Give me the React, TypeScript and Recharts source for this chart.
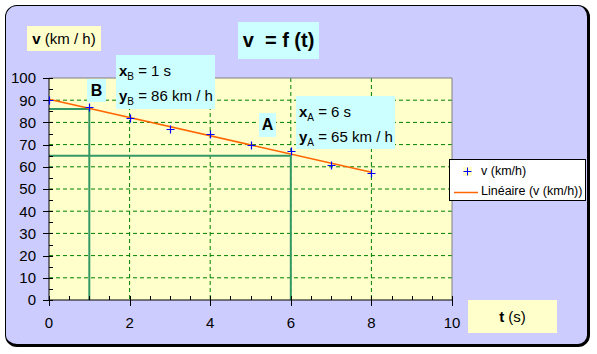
import { ComposedChart, Scatter, Line, XAxis, YAxis, CartesianGrid, ReferenceLine } from "recharts";

const times = [0, 1, 2, 3, 4, 5, 6, 7, 8];
const speeds = [90, 87, 82, 77, 75, 70, 67, 61, 57];
const xTicks = [0, 2, 4, 6, 8, 10];
const yTicks = [0, 10, 20, 30, 40, 50, 60, 70, 80, 90, 100];
const xMinorTicks = [0, 0.5, 1, 1.5, 2, 2.5, 3, 3.5, 4, 4.5, 5, 5.5, 6, 6.5, 7, 7.5, 8, 8.5, 9, 9.5, 10];
const yMinorTicks = [0, 5, 10, 15, 20, 25, 30, 35, 40, 45, 50, 55, 60, 65, 70, 75, 80, 85, 90, 95, 100];
const xGrid = [2, 4, 6, 8];
const yGrid = [10, 20, 30, 40, 50, 60, 70, 80, 90];
const pointB = { t: 1, v: 86 };
const pointA = { t: 6, v: 65 };

const FONT = "'Liberation Sans', Arial, sans-serif";

const points = times.map((t, i) => ({ t, v: speeds[i] }));
const xMinorMarks = xMinorTicks.map((t) => ({ t, v: 0 }));
const yMinorMarks = yMinorTicks.map((v) => ({ t: 0, v }));

// Excel-style linear trendline (least squares)
function linearTrend(xs: number[], ys: number[]) {
  const n = xs.length;
  const mx = xs.reduce((a, b) => a + b, 0) / n;
  const my = ys.reduce((a, b) => a + b, 0) / n;
  let sxy = 0;
  let sxx = 0;
  xs.forEach((x, i) => {
    sxy += (x - mx) * (ys[i] - my);
    sxx += (x - mx) * (x - mx);
  });
  const slope = sxy / sxx;
  const b = my - slope * mx;
  const first = xs[0];
  const last = xs[n - 1];
  return [
    { t: first, v: b + slope * first },
    { t: last, v: b + slope * last },
  ];
}
const trend = linearTrend(times, speeds);

function Plus(props: any) {
  const cx = Math.round(props.cx) + 0.5;
  const cy = Math.round(props.cy) + 0.5;
  return <path d={`M${cx - 4},${cy}H${cx + 4}M${cx},${cy - 4}V${cy + 4}`} stroke="#0000FF" strokeWidth={1.2} fill="none" />;
}

// minor ticks inside the plot, drawn under the markers
function XMinorTick(props: any) {
  const x = Math.round(props.cx) + 0.5;
  const y = props.cy;
  return <path d={`M${x},${y}V${y - 4}`} stroke="#000000" strokeWidth={1} />;
}
function YMinorTick(props: any) {
  const x = props.cx;
  const y = Math.round(props.cy) + 0.5;
  return <path d={`M${x},${y}H${x + 4}`} stroke="#000000" strokeWidth={1} />;
}

// major ticks outside with label
function XTick(props: any) {
  const { x, y, payload } = props;
  const rx = Math.round(x) + 0.5;
  return (
    <g>
      <path d={`M${rx},${y}V${y + 6}`} stroke="#000000" strokeWidth={1} />
      <text x={x} y={y + 17} dy="0.71em" textAnchor="middle" fill="#000" fontSize={15} fontFamily={FONT}>
        {payload.value}
      </text>
    </g>
  );
}

function YTick(props: any) {
  const { x, y, payload } = props;
  const ry = Math.round(y) + 0.5;
  return (
    <g>
      <path d={`M${x - 6},${ry}H${x}`} stroke="#000000" strokeWidth={1} />
      <text x={x - 13} y={y} dy="0.355em" textAnchor="end" fill="#000" fontSize={15} fontFamily={FONT}>
        {payload.value}
      </text>
    </g>
  );
}

const box = (left: number, top: number, width: number, height: number, bg: string): React.CSSProperties => ({
  position: "absolute",
  left,
  top,
  width,
  height,
  background: bg,
  fontFamily: FONT,
  color: "#000",
  boxSizing: "border-box",
});

const sub: React.CSSProperties = { fontSize: 10, position: "relative", top: 4 };

export default function App() {
  return (
    <div style={{ position: "absolute", left: 0, top: 0, width: 597, height: 354 }}>
      <div
        style={{
          position: "absolute",
          left: 5,
          top: 5,
          width: 585,
          height: 342,
          boxSizing: "border-box",
          background: "#CCCCFF",
          border: "1px solid #000",
          borderRightWidth: 3,
          borderBottomWidth: 3,
          borderRadius: 12,
        }}
      />
      <ComposedChart
        width={597}
        height={354}
        margin={{ top: 78, right: 145, bottom: 24, left: 9 }}
        style={{ position: "absolute", left: 0, top: 0 }}
      >
        <CartesianGrid fill="#FFFFCC" stroke="#008000" strokeDasharray="4 3" verticalValues={xGrid} horizontalValues={yGrid} />
        <XAxis
          type="number"
          dataKey="t"
          domain={[0, 10]}
          ticks={xTicks}
          interval={0}
          height={30}
          tickLine={false}
          tickSize={0}
          tickMargin={0}
          stroke="#000"
          tick={<XTick />}
        />
        <YAxis
          type="number"
          dataKey="v"
          domain={[0, 100]}
          ticks={yTicks}
          interval={0}
          width={40}
          tickLine={false}
          tickSize={0}
          tickMargin={0}
          stroke="#000"
          tick={<YTick />}
        />
        <ReferenceLine y={100} stroke="#808080" />
        <ReferenceLine x={10} stroke="#808080" />
        <ReferenceLine segment={[{ x: 0, y: pointB.v }, { x: pointB.t, y: pointB.v }]} stroke="#339966" strokeWidth={2} />
        <ReferenceLine segment={[{ x: pointB.t, y: pointB.v }, { x: pointB.t, y: 0 }]} stroke="#339966" strokeWidth={2} />
        <ReferenceLine segment={[{ x: 0, y: pointA.v }, { x: pointA.t, y: pointA.v }]} stroke="#339966" strokeWidth={2} />
        <ReferenceLine segment={[{ x: pointA.t, y: pointA.v }, { x: pointA.t, y: 0 }]} stroke="#339966" strokeWidth={2} />
        <Scatter data={xMinorMarks} dataKey="v" shape={XMinorTick} isAnimationActive={false} legendType="none" />
        <Scatter data={yMinorMarks} dataKey="v" shape={YMinorTick} isAnimationActive={false} legendType="none" />
        <Line data={trend} dataKey="v" stroke="#FF6600" strokeWidth={1.5} dot={false} activeDot={false} isAnimationActive={false} />
        <Scatter data={points} dataKey="v" shape={Plus} isAnimationActive={false} />
      </ComposedChart>

      <div style={{ ...box(27, 26, 74, 25, "#FFFFCC"), fontSize: 15, lineHeight: "25px", textAlign: "center" }}>
        <b>v</b> (km / h)
      </div>
      <div style={{ ...box(238, 22, 81, 37, "#CCFFFF"), fontSize: 20, fontWeight: "bold", lineHeight: "37px", textAlign: "center", whiteSpace: "pre" }}>
        {"v  = f (t)"}
      </div>

      <div style={{ ...box(87, 79, 19, 23, "#CCFFFF"), fontSize: 16, fontWeight: "bold", lineHeight: "23px", textAlign: "center" }}>B</div>
      <div style={{ ...box(116, 55, 99, 54, "#CCFFFF"), fontSize: 15, lineHeight: "23px", padding: "4px 0 0 3px", whiteSpace: "nowrap" }}>
        <div>
          <b>x</b>
          <span style={sub}>B</span> = 1 s
        </div>
        <div>
          <b>y</b>
          <span style={sub}>B</span> = 86 km / h
        </div>
      </div>

      <div style={{ ...box(259, 113, 17, 24, "#CCFFFF"), fontSize: 16, fontWeight: "bold", lineHeight: "24px", textAlign: "center" }}>A</div>
      <div style={{ ...box(296, 96, 99, 53, "#CCFFFF"), fontSize: 15, lineHeight: "23px", padding: "4px 0 0 3px", whiteSpace: "nowrap" }}>
        <div>
          <b>x</b>
          <span style={sub}>A</span> = 6 s
        </div>
        <div>
          <b>y</b>
          <span style={sub}>A</span> = 65 km / h
        </div>
      </div>

      <div style={{ ...box(468, 300, 89, 33, "#FFFFCC"), fontSize: 15, lineHeight: "33px", textAlign: "center" }}>
        <b>t</b> (s)
      </div>

      <div style={{ ...box(449, 159, 137, 42, "#FFFFFF"), border: "1px solid #000", fontSize: 12.5 }}>
        <svg width={30} height={40} style={{ position: "absolute", left: 0, top: 0 }}>
          <rect x={13} y={7} width={9} height={9} fill="#FFFFCC" />
          <path d="M13.5,11.5H21.5M17.5,7.5V15.5" stroke="#0000FF" strokeWidth={1} />
          <line x1={4} y1={32.5} x2={28} y2={32.5} stroke="#FF6600" strokeWidth={1.5} />
        </svg>
        <div style={{ position: "absolute", left: 31, top: 3, lineHeight: "16px" }}>v (km/h)</div>
        <div style={{ position: "absolute", left: 31, top: 23, lineHeight: "16px", whiteSpace: "nowrap" }}>Linéaire (v (km/h))</div>
      </div>
    </div>
  );
}
